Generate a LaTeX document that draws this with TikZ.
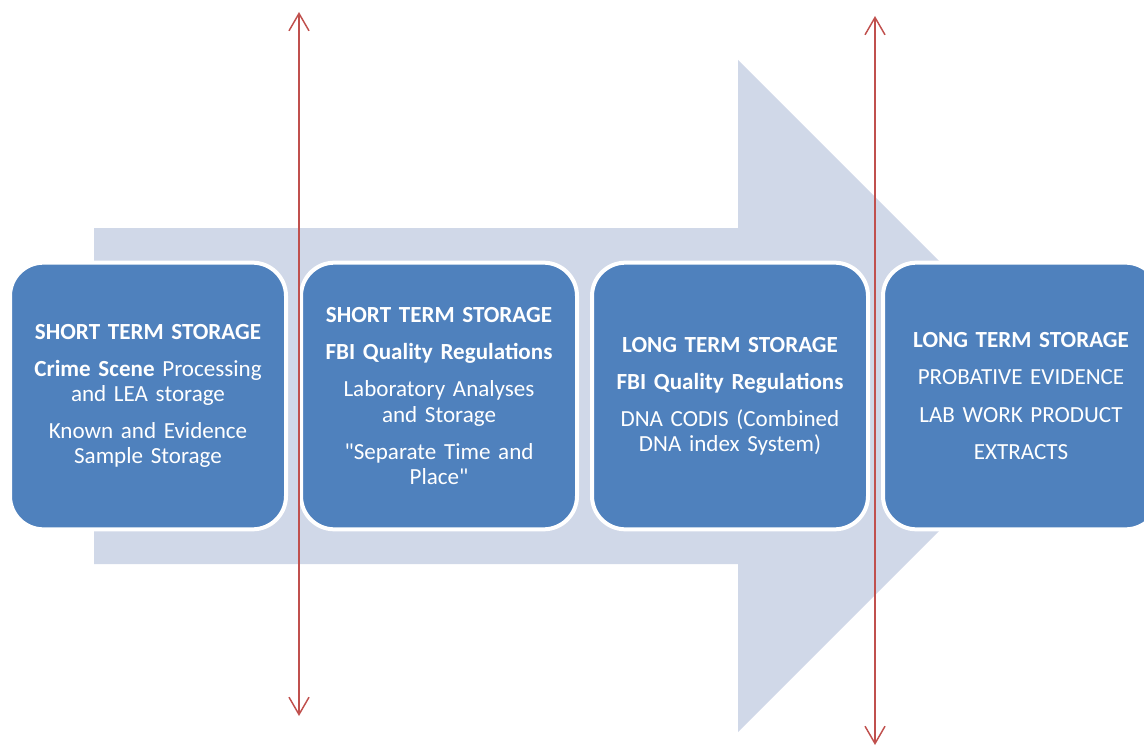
\documentclass[tikz,border=0pt]{standalone}
\usepackage{fontspec}
\setmainfont{Carlito}[Ligatures=TeXOff]
\usetikzlibrary{positioning, arrows.meta}

\definecolor{boxblue}{HTML}{4F81BD}
\definecolor{flowgray}{HTML}{D0D8E8}
\definecolor{splitred}{HTML}{C0504D}

\tikzset{
    stagebox/.style={rectangle, rounded corners=25pt, fill=boxblue, draw=white,
        line width=3pt, minimum width=207pt, minimum height=200pt,
        text=white, align=center, text width=190pt,
        font=\fontsize{17.3}{18.8}\selectfont},
    splitline/.style={splitred, line width=1.1pt,
        {Straight Barb[length=13pt,width=15pt]}-{Straight Barb[length=13pt,width=15pt]}}
}

\begin{document}
\begin{tikzpicture}[x=0.75pt, y=-0.75pt]

    \useasboundingbox (0, 0) rectangle (1144, 745);
    \clip (0, 0) rectangle (1144, 745);

    % Big arrow in the back
    \fill[flowgray] (94, 228) -- (738, 228) -- (738, 60) -- (1074, 396)
        -- (738, 732) -- (738, 564) -- (94, 564) -- cycle;

    % Storage stages
    \node[stagebox] (crime) at (148, 396)
        {\textbf{SHORT TERM STORAGE}\\[9pt]
         \textbf{Crime Scene} Processing\\ and LEA storage\\[9pt]
         Known and Evidence\\ Sample Storage};
    \node[stagebox, right=8.25pt of crime] (lab)
        {\textbf{SHORT TERM STORAGE}\\[9pt]
         \textbf{FBI Quality Regulations}\\[9pt]
         Laboratory Analyses\\ and Storage\\[9pt]
         "Separate Time and\\ Place"};
    \node[stagebox, right=8.25pt of lab] (codis)
        {\textbf{LONG TERM STORAGE}\\[9pt]
         \textbf{FBI Quality Regulations}\\[9pt]
         DNA CODIS (Combined\\ DNA index System)};
    \node[stagebox, right=8.25pt of codis] (archive)
        {\textbf{LONG TERM STORAGE}\\[9pt]
         PROBATIVE EVIDENCE\\[9pt]
         LAB WORK PRODUCT\\[9pt]
         EXTRACTS};

    % Red dividers
    \coordinate (splitAtop) at (299, 12);
    \coordinate (splitAbot) at (299, 716);
    \coordinate (splitBtop) at (875, 16);
    \coordinate (splitBbot) at (875, 745);
    \draw[splitline] (splitAtop) -- (splitAbot);
    \draw[splitline] (splitBtop) -- (splitBbot);

\end{tikzpicture}
\end{document}
